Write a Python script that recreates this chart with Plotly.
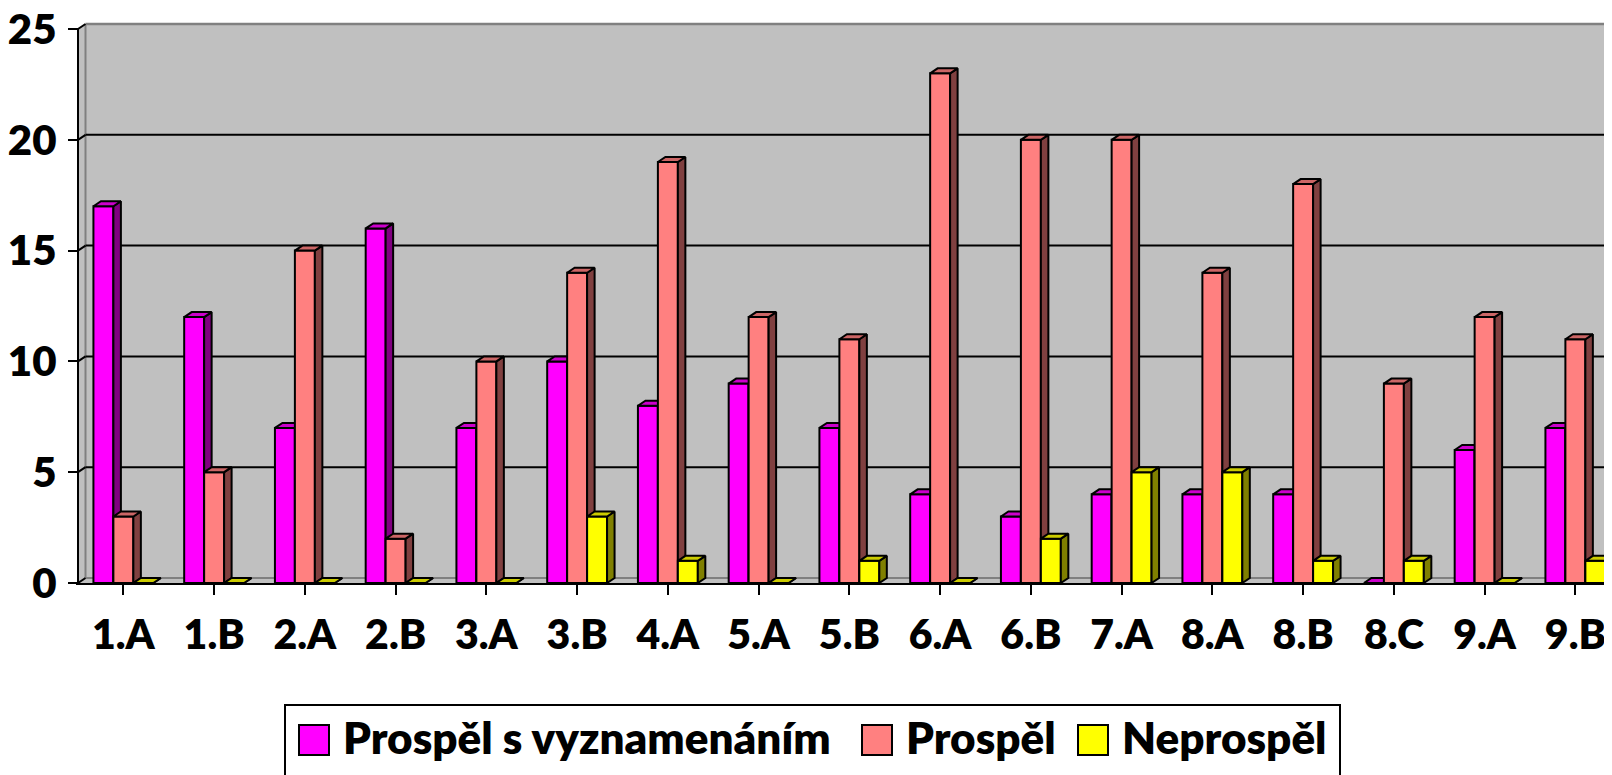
import plotly.graph_objects as go

# ---------------- data ----------------
categories = ["1.A", "1.B", "2.A", "2.B", "3.A", "3.B", "4.A", "5.A", "5.B",
              "6.A", "6.B", "7.A", "8.A", "8.B", "8.C", "9.A", "9.B"]
series_names = ["Prospěl s vyznamenáním", "Prospěl", "Neprospěl"]
vyznamenani = [17, 12, 7, 16, 7, 10, 8, 9, 7, 4, 3, 4, 4, 4, 0, 6, 7]
prospel = [3, 5, 15, 2, 10, 14, 19, 12, 11, 23, 20, 20, 14, 18, 9, 12, 11]
neprospel = [0, 0, 0, 0, 0, 3, 1, 0, 1, 0, 2, 5, 5, 1, 1, 0, 1]
y_ticks = [0, 5, 10, 15, 20, 25]

series_values = [vyznamenani, prospel, neprospel]
front_colors = ["#FF00FF", "#FF8080", "#FFFF00"]
top_colors = ["#CC00CC", "#CC6666", "#CCCC00"]
side_colors = ["#800080", "#804040", "#808000"]

# ---------------- geometry (pixel based; page body has an 8px margin) ----------------
W, H = 1612, 775
OFF = 8                         # default body margin of the html page
Y0_PAGE = 583                   # page y of value 0
AX_PAGE = 78                    # page x of the vertical axis
ML = AX_PAGE - OFF - 2
MT = 10
MB = H - (Y0_PAGE - OFF)
PLOT_W = W - ML
PLOT_H = H - MT - MB
PX = 90.75          # px per category
PY = 22.16          # px per unit
DX = 7.5 / PX       # depth offset (x)
DY = 5.0 / PY       # depth offset (y)
XL = -0.5 - 2 / PX
XR = XL + PLOT_W / PX
YTOP = PLOT_H / PY
BW = 0.22
OFFS = [-0.33, -0.11, 0.11]
n = len(categories)
idx = list(range(n))

fig = go.Figure()

for s, vals in enumerate(series_values):
    ax = "" if s == 0 else str(s + 1)
    xa, ya = "x" + ax, "y" + ax
    fig.add_trace(go.Bar(
        x=idx, y=vals, width=BW, offset=OFFS[s], base=0,
        marker=dict(color=front_colors[s], line=dict(color="black", width=2)),
        xaxis=xa, yaxis=ya, showlegend=False, name=series_names[s],
        hoverinfo="skip"))
    sx, sy, tx, ty = [], [], [], []
    for i, v in enumerate(vals):
        xl = i + OFFS[s]
        xr = xl + BW
        sx += [xr, xr + DX, xr + DX, xr, xr, None]
        sy += [0, DY, v + DY, v, 0, None]
        tx += [xl, xl + DX, xr + DX, xr, xl, None]
        ty += [v, v + DY, v + DY, v, v, None]
    fig.add_trace(go.Scatter(
        x=sx, y=sy, mode="lines", fill="toself", fillcolor=side_colors[s],
        line=dict(color="black", width=2), xaxis=xa, yaxis=ya,
        showlegend=False, hoverinfo="skip"))
    fig.add_trace(go.Scatter(
        x=tx, y=ty, mode="lines", fill="toself", fillcolor=top_colors[s],
        line=dict(color="black", width=2), xaxis=xa, yaxis=ya,
        showlegend=False, hoverinfo="skip"))

shapes = []
WALL = "#C0C0C0"
EDGE = "#808080"
xw = -0.5 + DX
ymax = y_ticks[-1]
# back wall
shapes.append(dict(type="rect", xref="x", yref="y", x0=xw, x1=XR + 1, y0=DY, y1=ymax + DY,
                   fillcolor=WALL, line=dict(width=0), layer="below"))
# left side wall
shapes.append(dict(type="path", xref="x", yref="y",
                   path=f"M{-0.5},{0} L{xw},{DY} L{xw},{ymax + DY} L{-0.5},{ymax} Z",
                   fillcolor=WALL, line=dict(width=0), layer="below"))
# floor
shapes.append(dict(type="path", xref="x", yref="y",
                   path=f"M{-0.5},{0} L{xw},{DY} L{XR + 1},{DY} L{XR + 1},{0} Z",
                   fillcolor=WALL, line=dict(width=0), layer="below"))
# wall edges
shapes.append(dict(type="line", xref="x", yref="y", x0=xw, x1=xw, y0=DY, y1=ymax + DY,
                   line=dict(color=EDGE, width=2), layer="below"))
shapes.append(dict(type="line", xref="x", yref="y", x0=xw, x1=XR + 1, y0=DY, y1=DY,
                   line=dict(color=EDGE, width=2), layer="below"))
shapes.append(dict(type="line", xref="x", yref="y", x0=xw, x1=XR + 1, y0=ymax + DY, y1=ymax + DY,
                   line=dict(color=EDGE, width=2.5), layer="below"))
# gridlines on the back wall
for t in y_ticks[1:-1]:
    shapes.append(dict(type="line", xref="x", yref="y", x0=xw, x1=XR + 1, y0=t + DY, y1=t + DY,
                       line=dict(color="black", width=2), layer="below"))
for t in y_ticks:
    shapes.append(dict(type="line", xref="x", yref="y", x0=-0.5, x1=xw, y0=t, y1=t + DY,
                       line=dict(color="black", width=2), layer="below"))
# front vertical axis line
shapes.append(dict(type="line", xref="x", yref="y", x0=-0.5, x1=-0.5, y0=0, y1=ymax,
                   line=dict(color="black", width=2), layer="above"))

# ---------------- custom legend (positions given in page pixels) ----------------
def pxx(p):
    return (p - OFF - ML) / PLOT_W

def pxy(p):
    return (H - MB - (p - OFF)) / PLOT_H

FONT = dict(family="Lato", size=44, color="black", weight=800)
XFONT = dict(family="Lato", size=41, color="black", weight=800)
YFONT = dict(family="Lato", size=42, color="black", weight=800)

shapes.append(dict(type="rect", xref="paper", yref="paper",
                   x0=pxx(285), x1=pxx(1340), y0=pxy(705), y1=pxy(800),
                   fillcolor="white", line=dict(color="black", width=2)))
sq_left = [299, 862, 1078]
txt_left = [341, 904, 1120]
annotations = []
for s in range(3):
    shapes.append(dict(type="rect", xref="paper", yref="paper",
                       x0=pxx(sq_left[s]), x1=pxx(sq_left[s] + 30),
                       y0=pxy(755), y1=pxy(725),
                       fillcolor=front_colors[s], line=dict(color="black", width=2)))
    annotations.append(dict(xref="paper", yref="paper", x=pxx(txt_left[s]), y=pxy(737),
                            xanchor="left", yanchor="middle", showarrow=False,
                            text=series_names[s], font=FONT))

fig.update_layout(
    width=W, height=H,
    margin=dict(l=ML, r=0, t=MT, b=MB, autoexpand=False),
    paper_bgcolor="white", plot_bgcolor="white",
    barmode="overlay",
    shapes=shapes, annotations=annotations,
    showlegend=False,
    xaxis=dict(range=[XL, XR], tickmode="array", tickvals=idx,
               ticktext=categories,
               tickson="boundaries", ticks="outside", ticklen=10, tickwidth=2,
               tickcolor="black", showline=True, linewidth=2, linecolor="black",
               showgrid=False, zeroline=False, tickfont=XFONT, fixedrange=True,
               ticklabelstandoff=5, ticklabeloverflow="allow"),
    yaxis=dict(range=[0, YTOP], tickmode="array", tickvals=y_ticks,
               ticktext=[str(t) for t in y_ticks],
               anchor="free", position=2 / PLOT_W,
               ticks="outside", ticklen=10, tickwidth=2, tickcolor="black",
               showline=False, showgrid=False, zeroline=False, tickfont=YFONT,
               fixedrange=True, ticklabelstandoff=3, ticklabeloverflow="allow"),
)
for k in (2, 3):
    fig.update_layout(**{
        "xaxis%d" % k: dict(range=[XL, XR], overlaying="x", visible=False, fixedrange=True),
        "yaxis%d" % k: dict(range=[0, YTOP], overlaying="y", visible=False, fixedrange=True),
    })

fig.write_html("out.html")
